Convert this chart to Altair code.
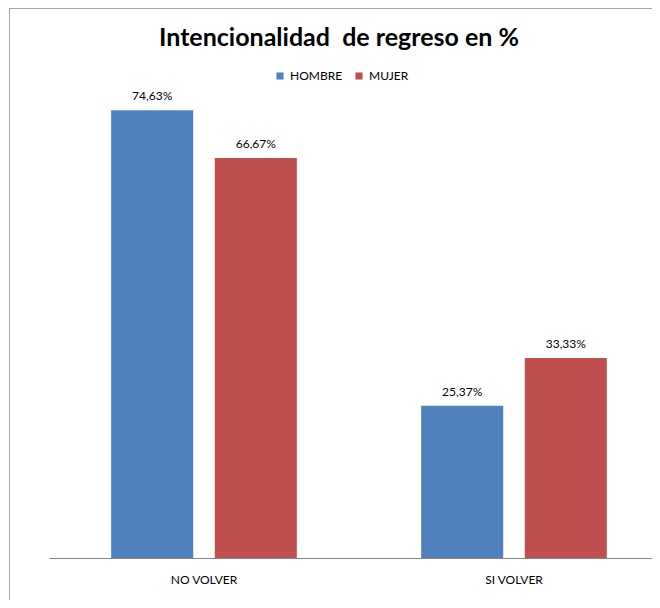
import altair as alt
import pandas as pd

categories = ["NO VOLVER", "SI VOLVER"]
series = ["HOMBRE", "MUJER"]
hombre = [74.63, 25.37]
mujer = [66.67, 33.33]
colors = ["#4F81BD", "#C0504D"]
title_text = "Intencionalidad\u00a0 de regreso en %"

rows = []
for i, c in enumerate(categories):
    for s, vals in zip(series, [hombre, mujer]):
        v = vals[i]
        rows.append({"cat": c, "sexo": s, "val": v,
                     "lab": f"{v:.2f}".replace(".", ",") + "%"})
df = pd.DataFrame(rows)

W, H = 603, 480
FONT = "Lato"

base = alt.Chart(df).encode(
    x=alt.X("cat:N", sort=categories,
            scale=alt.Scale(range=[0, 620], paddingInner=0, paddingOuter=0),
            axis=alt.Axis(title=None, labelAngle=0, ticks=False, domainColor="#868686",
                          labelFont=FONT, labelFontSize=12, labelColor="black",
                          labelPadding=16)),
    xOffset=alt.XOffset("sexo:N", sort=series,
                        scale=alt.Scale(paddingInner=0.208, paddingOuter=0.6)),
    y=alt.Y("val:Q", scale=alt.Scale(domain=[0, 80]), axis=None),
)

bars = base.mark_bar().encode(
    color=alt.Color("sexo:N", sort=series,
                    scale=alt.Scale(domain=series, range=colors),
                    legend=alt.Legend(title=None, orient="none", legendX=225, legendY=-8,
                                      direction="horizontal", symbolType="square",
                                      symbolSize=50, symbolStrokeWidth=0,
                                      labelFont=FONT, labelFontSize=12, labelColor="black",
                                      columnPadding=10))
)

labels = base.mark_text(baseline="bottom", dy=-7, font=FONT, fontSize=12, color="black").encode(
    text="lab:N"
)

border_df = pd.DataFrame({"k": [0]})
left_border = alt.Chart(border_df).mark_rule(color="#A6A6A6", strokeWidth=1).encode(
    x=alt.value(-39.5), y=alt.value(-70), y2=alt.value(H + 42)
)
top_border = alt.Chart(border_df).mark_rule(color="#A6A6A6", strokeWidth=1).encode(
    x=alt.value(-40), x2=alt.value(W + 10), y=alt.value(-69.5)
)
title = alt.Chart(border_df).mark_text(
    text=title_text, font=FONT, fontSize=25, fontWeight="bold", color="black",
    align="center", baseline="middle"
).encode(x=alt.value(290), y=alt.value(-40))

chart = alt.layer(bars, labels, left_border, top_border, title).properties(
    width=W, height=H,
    autosize=alt.AutoSizeParams(type="none"),
    padding={"left": 41, "top": 70, "right": 0, "bottom": 42},
    background="white",
).configure_view(stroke=None)

chart.save("out.html", embed_options={"renderer": "svg", "actions": False})
